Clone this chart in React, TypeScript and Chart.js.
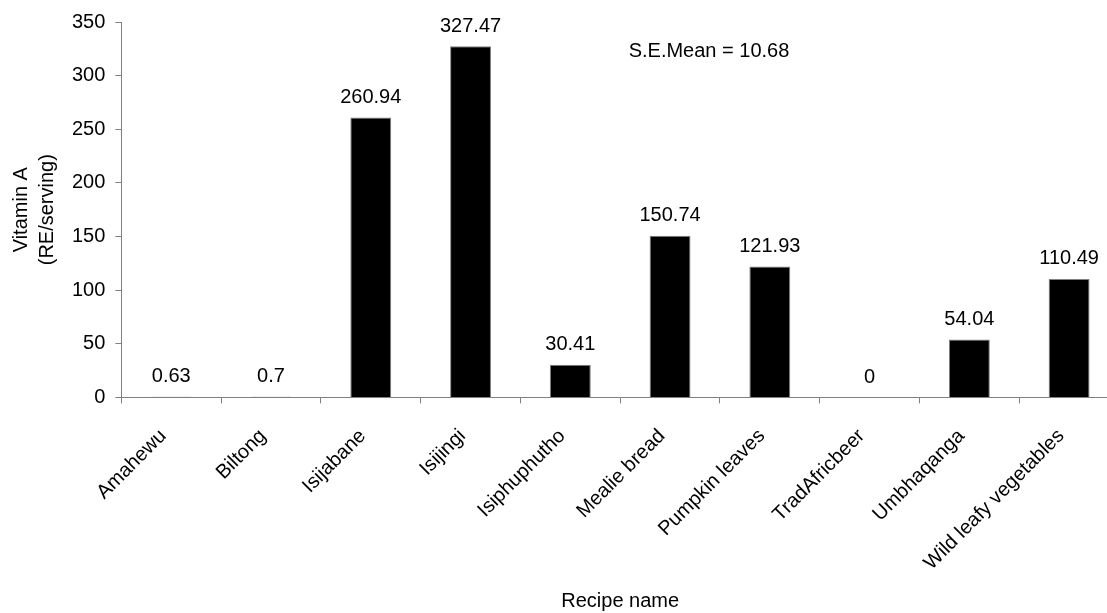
import React, { useEffect, useRef } from "react";
import { Chart, registerables } from "chart.js";

Chart.register(...registerables);

const categories = [
  "Amahewu",
  "Biltong",
  "Isijabane",
  "Isijingi",
  "Isiphuphutho",
  "Mealie bread",
  "Pumpkin leaves",
  "TradAfricbeer",
  "Umbhaqanga",
  "Wild leafy vegetables",
];
const vitaminA = [0.63, 0.7, 260.94, 327.47, 30.41, 150.74, 121.93, 0, 54.04, 110.49];
const valueLabels = ["0.63", "0.7", "260.94", "327.47", "30.41", "150.74", "121.93", "0", "54.04", "110.49"];
const seMeanText = "S.E.Mean = 10.68";
const yTitle = ["Vitamin A", "(RE/serving)"];
const xTitle = "Recipe name";

const FONT = "'Liberation Sans', Arial, Helvetica, sans-serif";

const labelPlugin = {
  id: "valueLabels",
  afterDatasetsDraw(chart: any) {
    const ctx = chart.ctx;
    const meta = chart.getDatasetMeta(0);
    ctx.save();
    ctx.font = `20px ${FONT}`;
    ctx.fillStyle = "#000";
    ctx.textAlign = "center";
    ctx.textBaseline = "bottom";
    meta.data.forEach((bar: any, i: number) => {
      ctx.fillText(valueLabels[i], bar.x, bar.y - 10);
    });
    const xs = chart.scales.x;
    const ys = chart.scales.y;
    ctx.fillText(seMeanText, xs.getPixelForValue(5.39), ys.getPixelForValue(313));
    ctx.restore();
  },
};

export default function App() {
  const ref = useRef<HTMLCanvasElement | null>(null);
  useEffect(() => {
    if (!ref.current) return;
    const chart = new Chart(ref.current, {
      type: "bar",
      data: {
        labels: categories,
        datasets: [
          {
            data: vitaminA,
            backgroundColor: "#000000",
            borderColor: "#808080",
            borderWidth: 1,
            barPercentage: 0.41,
            categoryPercentage: 1,
          },
        ],
      },
      options: {
        responsive: false,
        animation: false,
        layout: { padding: { top: 10, left: 8, right: 6, bottom: 0 } },
        plugins: {
          legend: { display: false },
          tooltip: { enabled: false },
        },
        scales: {
          x: {
            afterFit: (scale: any) => {
              scale.height -= 7;
            },
            grid: {
              drawOnChartArea: false,
              drawTicks: true,
              tickLength: 6,
              color: "#808080",
              offset: true,
            },
            border: { color: "#808080", width: 1 },
            ticks: {
              autoSkip: false,
              maxRotation: 45,
              minRotation: 45,
              color: "#000",
              padding: 21,
              labelOffset: -8,
              font: { family: FONT, size: 20 },
            },
            title: {
              display: true,
              text: xTitle,
              color: "#000",
              font: { family: FONT, size: 20 },
              padding: { top: 0, bottom: 0 },
            },
          },
          y: {
            min: 0,
            max: 350,
            grid: {
              drawOnChartArea: false,
              drawTicks: true,
              tickLength: 6,
              color: "#808080",
            },
            border: { color: "#808080", width: 1 },
            ticks: {
              stepSize: 50,
              color: "#000",
              padding: 10,
              font: { family: FONT, size: 20 },
            },
            title: {
              display: true,
              text: yTitle,
              color: "#000",
              font: { family: FONT, size: 20, lineHeight: 1.3 },
              padding: { top: 0, bottom: 2 },
            },
          },
        },
      },
      plugins: [labelPlugin],
    });
    return () => chart.destroy();
  }, []);
  return (
    <div
      style={{
        position: "fixed",
        left: 0,
        top: 0,
        width: 1107,
        height: 613,
        overflow: "hidden",
        background: "#fff",
      }}
    >
      <canvas ref={ref} width={1125} height={613} style={{ display: "block" }} />
    </div>
  );
}
